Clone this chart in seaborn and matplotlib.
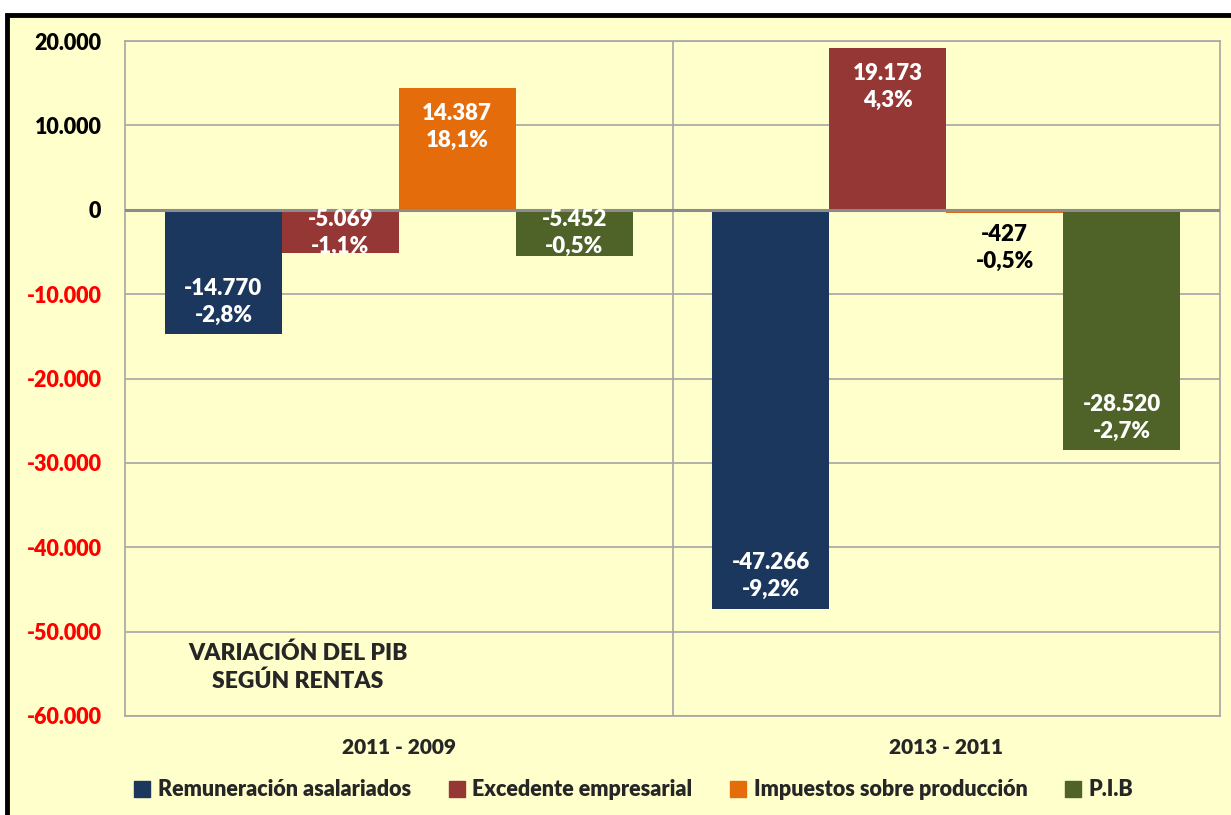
import matplotlib
matplotlib.use("Agg")
import matplotlib.pyplot as plt
import matplotlib.patches as mpatches
import matplotlib.ticker as mticker
import numpy as np
import pandas as pd
import seaborn as sns

# ---------------- data ----------------
periods = ["2011 - 2009", "2013 - 2011"]
components = ["Remuneración asalariados", "Excedente empresarial",
              "Impuestos sobre producción", "P.I.B"]
values_1 = [-14770, -5069, 14387, -5452]      # 2011 - 2009
values_2 = [-47266, 19173, -427, -28520]      # 2013 - 2011
pct_1 = ["-2,8%", "-1,1%", "18,1%", "-0,5%"]
pct_2 = ["-9,2%", "4,3%", "-0,5%", "-2,7%"]
colors = ["#1B375D", "#953735", "#E46C0A", "#4F6228"]

df = pd.DataFrame({
    "periodo": [periods[0]] * 4 + [periods[1]] * 4,
    "componente": components * 2,
    "valor": values_1 + values_2,
    "pct": pct_1 + pct_2,
})

sns.set_style("white")
plt.rcParams["font.family"] = ["Lato", "DejaVu Sans"]
W = "heavy"
plt.rcParams["font.weight"] = W

bg = "#FFFFCC"
grid_c = "#A6A6A6"

fig = plt.figure(figsize=(12.31, 8.15), dpi=100)
fig.patch.set_facecolor("white")
# yellow framed box behind the chart
box = mpatches.Rectangle((7 / 1231, -0.05), 1.05, 1 - 15 / 815 + 0.05,
                         transform=fig.transFigure, facecolor=bg,
                         edgecolor="black", lw=3.5, zorder=-10)
fig.patches.append(box)

ax = fig.add_axes([125 / 1231, 1 - 716 / 815, (1220 - 125) / 1231, (716 - 41) / 815])
ax.set_facecolor(bg)

sns.barplot(data=df, x="periodo", y="valor", hue="componente", hue_order=components,
            palette=colors, width=0.854, saturation=1, errorbar=None, ax=ax,
            legend=True, zorder=3, linewidth=0)

ax.set_ylim(-60000, 20000)
ax.set_xlim(-0.5, 1.5)
ax.yaxis.set_major_locator(mticker.MultipleLocator(10000))
ax.yaxis.set_major_formatter(mticker.FuncFormatter(lambda v, p: f"{int(v):,}".replace(",", ".")))
ax.grid(axis="y", color=grid_c, lw=1.2, zorder=0)
ax.axvline(0.5, color=grid_c, lw=1.2, zorder=0)
ax.axhline(0, color="#8C8C8C", lw=2.2, zorder=4)

for s in ax.spines.values():
    s.set_color(grid_c)
    s.set_linewidth(1.2)

ax.tick_params(axis="y", direction="out", length=8, width=1.2, color=grid_c,
               labelsize=15.5, pad=9)
ax.tick_params(axis="x", length=0, labelsize=15, pad=16)
for lab in ax.get_yticklabels():
    lab.set_fontweight(W)
    lab.set_color("red" if lab.get_text().startswith("-") else "black")
for lab in ax.get_xticklabels():
    lab.set_fontweight(W)
ax.set_xlabel("")
ax.set_ylabel("")

# data labels
for ci, cont in enumerate(ax.containers):
    for pi, bar in enumerate(cont):
        v = df.loc[(df.componente == components[ci]) & (df.periodo == periods[pi]), "valor"].iloc[0]
        p = df.loc[(df.componente == components[ci]) & (df.periodo == periods[pi]), "pct"].iloc[0]
        xc = bar.get_x() + bar.get_width() / 2
        if abs(v) < 2000:
            yc, col = v - 4100, "black"
        elif v < 0:
            yc, col = min(v + 3850, -2800), "white"
        else:
            yc, col = v - 4600, "white"
        txt = f"{v:,}".replace(",", ".") + "\n" + p
        ax.text(xc, yc, txt, ha="center", va="center", color=col, fontsize=16,
                fontweight=W, linespacing=1.35, zorder=5)

ax.text(0.158, 0.072, "VARIACIÓN DEL PIB\nSEGÚN RENTAS", transform=ax.transAxes,
        ha="center", va="center", fontsize=16.5, fontweight=W, linespacing=1.4)

ax.legend_.remove()
handles = [mpatches.Patch(color=c) for c in colors]
fig.legend(handles, components, loc="center", bbox_to_anchor=(0.515, 1 - 790 / 815),
           ncol=4, frameon=False, handlelength=0.75, handleheight=0.75,
           handletextpad=0.35, columnspacing=1.75, prop={"weight": W, "size": 15.5})

fig.savefig("out.png", dpi=100, facecolor=fig.get_facecolor())
